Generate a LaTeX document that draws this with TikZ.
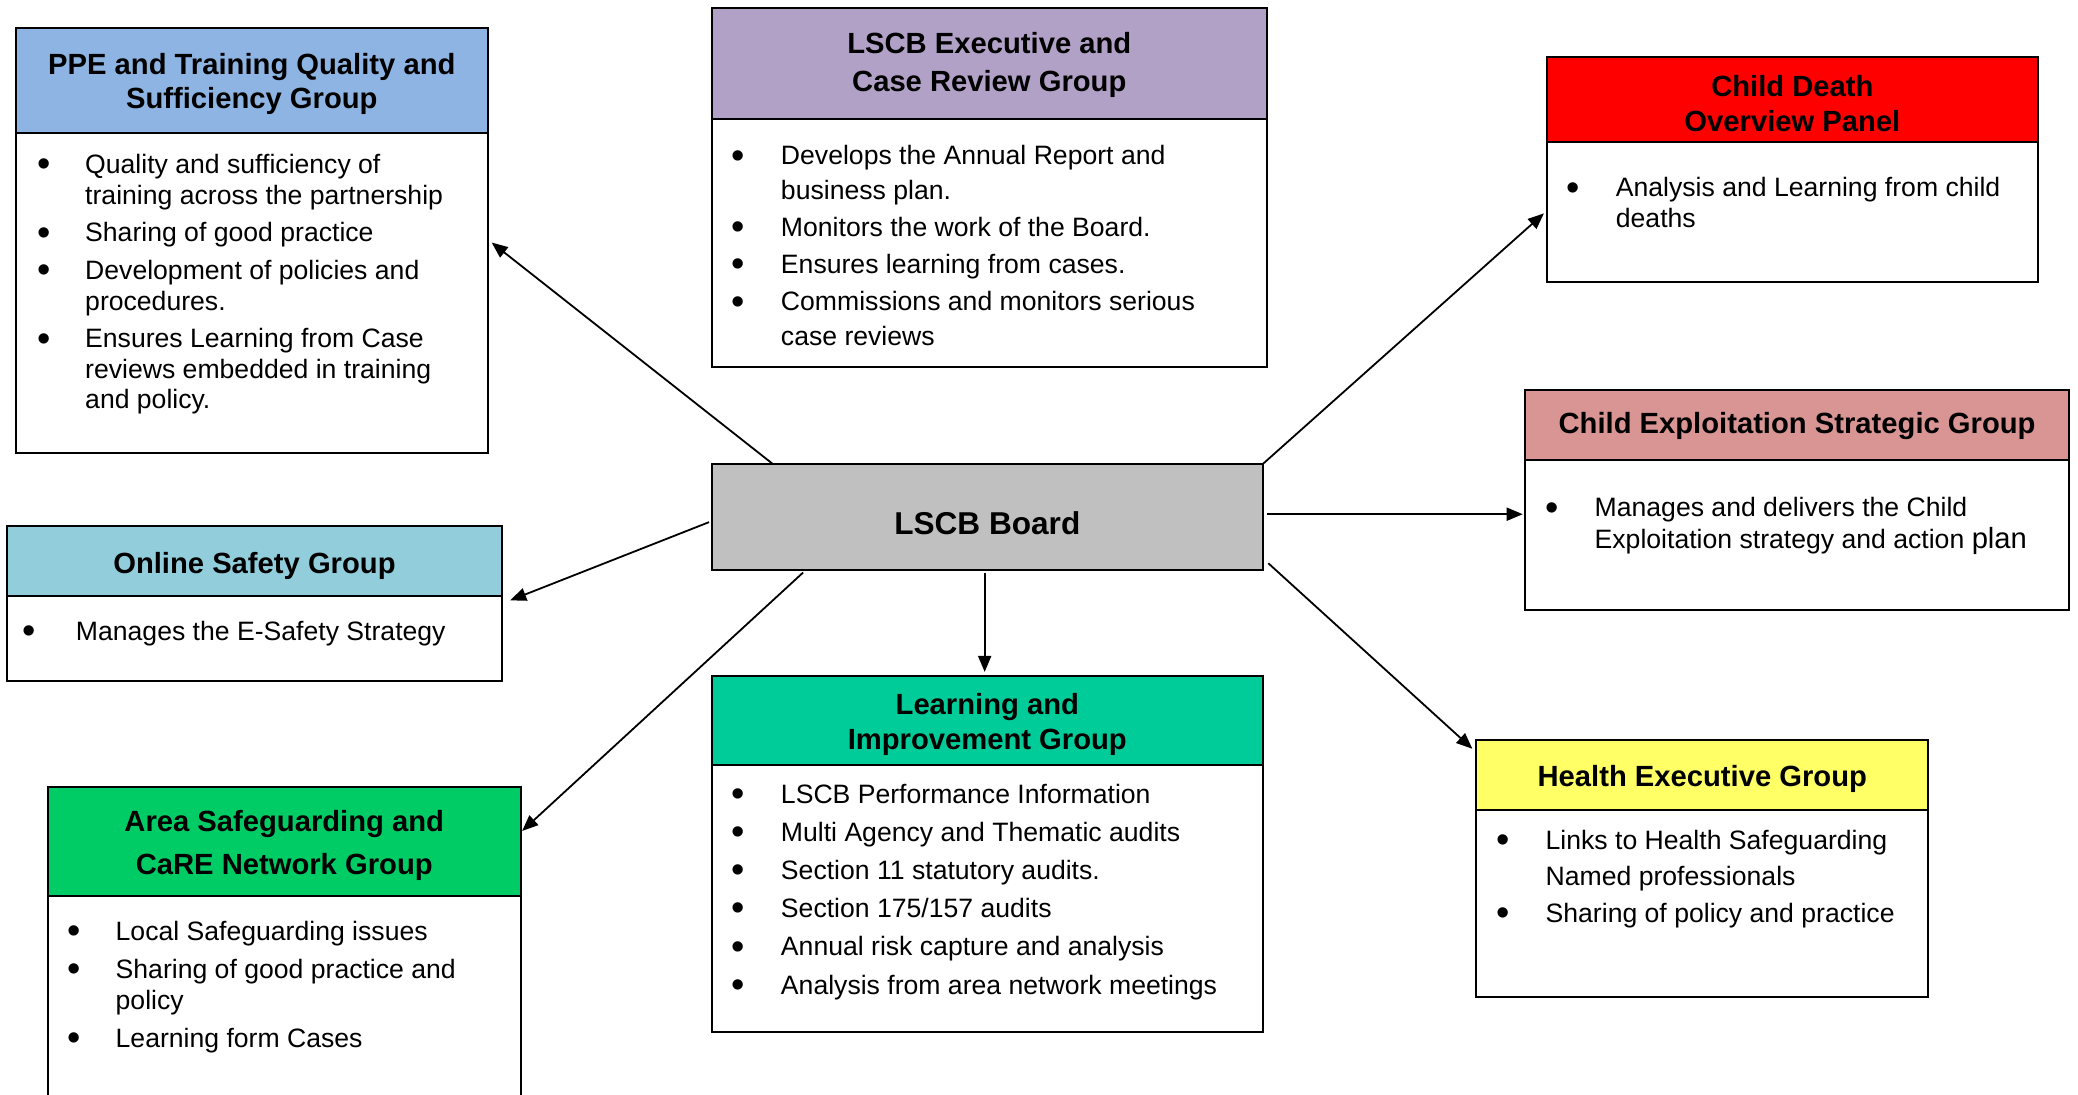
\documentclass[tikz,border=0pt]{standalone}
\usepackage{fontspec}
\setmainfont{Liberation Sans}
\usetikzlibrary{arrows.meta,calc}
\newdimen\Ud \Ud=0.66265pt
\def\U{0.66265pt}
\definecolor{ppecol}{RGB}{141,180,226}
\definecolor{execcol}{RGB}{178,161,199}
\definecolor{cdopcol}{RGB}{255,0,0}
\definecolor{cescol}{RGB}{217,149,148}
\definecolor{onlinecol}{RGB}{146,205,220}
\definecolor{boardcol}{RGB}{192,192,192}
\definecolor{areacol}{RGB}{0,204,102}
\definecolor{learncol}{RGB}{0,204,153}
\definecolor{healthcol}{RGB}{255,255,102}
\newcommand\hfnt[1]{\fontsize{14.6}{#1}\selectfont\bfseries}
\newcommand\bfnt[1]{\fontsize{13.3}{#1}\selectfont}
\newcommand\blist[2]{\begin{tabular}[t]{@{}p{#1\Ud}@{}l@{}}#2\end{tabular}}
\newcommand\bul{\raisebox{-1.6pt}{\fontsize{19}{0}\selectfont\textbullet}}
\tikzset{
  hdr/.style={draw=black, line width=1pt, anchor=north west, inner sep=0pt, outer sep=0pt},
  htxt/.style={inner sep=0pt, align=center},
  bdy/.style={draw=black, line width=1pt, anchor=north west, inner sep=0pt, outer sep=0pt, fill=white},
  txt/.style={anchor=base west, inner sep=0pt},
  arr/.style={-{Triangle[length=8pt,width=6.5pt]}, line width=0.9pt}
}
\begin{document}
\begin{tikzpicture}[x=0.66265pt, y=-0.66265pt]
\useasboundingbox (0,0) rectangle (1568,826);

% PPE
\node[hdr, fill=ppecol, minimum width=356*\U, minimum height=79*\U] (ppeh) at (12,21) {};
\node[htxt, font=\hfnt{17.2}] (ppeht) at ($(ppeh.center)+(0,3)$) {PPE and Training Quality and\\Sufficiency Group};
\node[bdy, minimum width=356*\U, minimum height=242*\U] (ppeb) at (ppeh.south west) {};
\node[txt, font=\bfnt{15.2}] (ppet) at (28,131) {\blist{36}{%
\bul & Quality and sufficiency of\\
 & training across the partnership\\[3.7pt]
\bul & Sharing of good practice\\[3.7pt]
\bul & Development of policies and\\
 & procedures.\\[3.7pt]
\bul & Ensures Learning from Case\\
 & reviews embedded in training\\
 & and policy.}};

% LSCB Executive
\node[hdr, fill=execcol, minimum width=419*\U, minimum height=84*\U] (exech) at (537,6) {};
\node[htxt, font=\hfnt{19.2}] (execht) at ($(exech.center)+(0,1)$) {LSCB Executive and\\Case Review Group};
\node[bdy, minimum width=419*\U, minimum height=187*\U] (execb) at (exech.south west) {};
\node[txt, font=\bfnt{17.2}] (exect) at (552,124.5) {\blist{37}{%
\bul & Develops the Annual Report and\\
 & business plan.\\[1.4pt]
\bul & Monitors the work of the Board.\\[1.4pt]
\bul & Ensures learning from cases.\\[1.4pt]
\bul & Commissions and monitors serious\\
 & case reviews}};

% Child Death
\node[hdr, fill=cdopcol, minimum width=371*\U, minimum height=64*\U] (cdoph) at (1167,43) {};
\node[htxt, font=\hfnt{17.2}] (cdopht) at ($(cdoph.center)+(0,3)$) {Child Death\\Overview Panel};
\node[bdy, minimum width=371*\U, minimum height=106*\U] (cdopb) at (cdoph.south west) {};
\node[txt, font=\bfnt{15.2}] (cdopt) at (1182,148.5) {\blist{37}{%
\bul & Analysis and Learning from child\\
 & deaths}};

% Child Exploitation
\node[hdr, fill=cescol, minimum width=410*\U, minimum height=53*\U] (cesh) at (1151,294) {};
\node[htxt, font=\hfnt{17.2}] (cesht) at ($(cesh.center)+(0,1)$) {Child Exploitation Strategic Group};
\node[bdy, minimum width=410*\U, minimum height=113*\U] (cesb) at (cesh.south west) {};
\node[txt, font=\bfnt{15.9}] (cest) at (1166,390) {\blist{37}{%
\bul & Manages and delivers the Child\\
 & Exploitation strategy and action {\fontsize{14.6}{15.9}\selectfont plan}}};

% Online Safety
\node[hdr, fill=onlinecol, minimum width=374*\U, minimum height=53*\U] (onlineh) at (5,397) {};
\node[htxt, font=\hfnt{17.2}] (onlineht) at ($(onlineh.center)+(0,3.5)$) {Online Safety Group};
\node[bdy, minimum width=374*\U, minimum height=64*\U] (onlineb) at (onlineh.south west) {};
\node[txt, font=\bfnt{15.2}] (onlinet) at (17,483.5) {\blist{40}{%
\bul & Manages the E-Safety Strategy}};

% Board
\node[hdr, fill=boardcol, minimum width=416*\U, minimum height=80*\U] (board) at (537,350) {};
\node[htxt, font=\fontsize{15.8}{18}\selectfont\bfseries] (boardt) at ($(board.center)+(0,5)$) {LSCB Board};

% Area Safeguarding
\node[hdr, fill=areacol, minimum width=357*\U, minimum height=82*\U] (areah) at (36,594) {};
\node[htxt, font=\hfnt{21.9}] (areaht) at ($(areah.center)+(0,3)$) {Area Safeguarding and\\CaRE Network Group};
\node[bdy, minimum width=357*\U, minimum height=170*\U] (areab) at (areah.south west) {};
\node[txt, font=\bfnt{15.2}] (areat) at (51,709.5) {\blist{36}{%
\bul & Local Safeguarding issues\\[4pt]
\bul & Sharing of good practice and\\
 & policy\\[4pt]
\bul & Learning form Cases}};

% Learning and Improvement
\node[hdr, fill=learncol, minimum width=416*\U, minimum height=67*\U] (learnh) at (537,510) {};
\node[htxt, font=\hfnt{17.2}] (learnht) at ($(learnh.center)+(0,3)$) {Learning and\\Improvement Group};
\node[bdy, minimum width=416*\U, minimum height=202*\U] (learnb) at (learnh.south west) {};
\node[txt, font=\bfnt{19.1}] (learnt) at (552,606) {\blist{37}{%
\bul & LSCB Performance Information\\
\bul & Multi Agency and Thematic audits\\
\bul & Section 11 statutory audits.\\
\bul & Section 175/157 audits\\
\bul & Annual risk capture and analysis\\
\bul & Analysis from area network meetings}};

% Health Executive
\node[hdr, fill=healthcol, minimum width=341*\U, minimum height=53*\U] (healthh) at (1114,558) {};
\node[htxt, font=\hfnt{17.2}] (healthht) at ($(healthh.center)+(0,3)$) {Health Executive Group};
\node[bdy, minimum width=341*\U, minimum height=141*\U] (healthb) at (healthh.south west) {};
\node[txt, font=\bfnt{17.9}] (healtht) at (1129,641) {\blist{37}{%
\bul & Links to Health Safeguarding\\
 & Named professionals\\[0.7pt]
\bul & Sharing of policy and practice}};

% Connectors
\draw[arr] ($(board.north west)+(46,0)$) -- ($(ppeb.north east)+(3,83)$);
\draw[arr] ($(board.north west)+(-2,44)$) -- ($(onlineb.north east)+(6,3)$);
\draw[arr] ($(board.south west)+(69,2)$) -- ($(areah.north east)+(1,33)$);
\draw[arr] ($(board.south)+(-2,2)$) -- ($(learnh.north)+(-2,-3)$);
\draw[arr] (board.north east) -- ($(cdopb.north west)+(-2,54)$);
\draw[arr] ($(board.north east)+(3,38)$) coordinate (cstart) -- ($(cstart -| cesb.west)+(-2,0)$);
\draw[arr] ($(board.north east)+(4,75)$) -- ($(healthh.north west)+(-3,7)$);
\end{tikzpicture}
\end{document}
